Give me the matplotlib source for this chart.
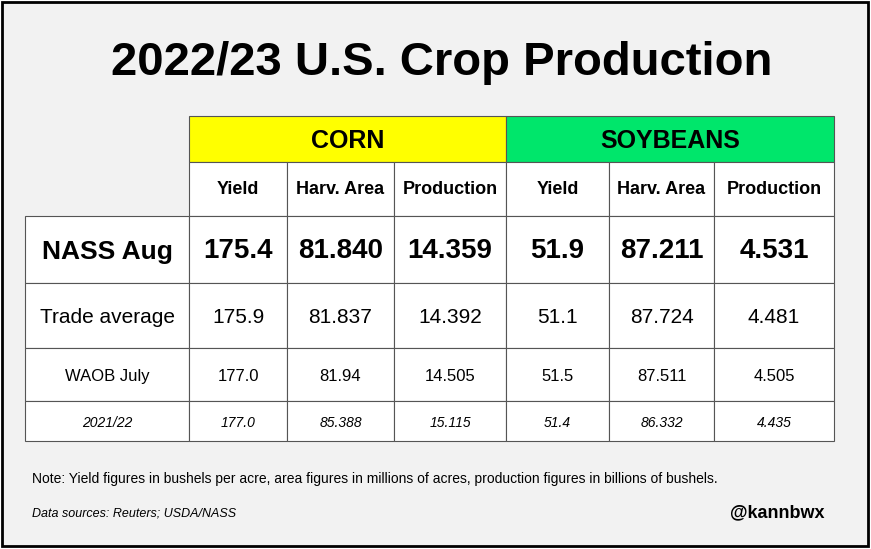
import matplotlib.pyplot as plt
from matplotlib.patches import Rectangle

plt.rcParams['font.family'] = ['Liberation Sans', 'DejaVu Sans']

title = "2022/23 U.S. Crop Production"
crops = ["CORN", "SOYBEANS"]
crop_colors = ["#ffff00", "#00e66b"]
columns = ["Yield", "Harv. Area", "Production"] * 2
row_labels = ["NASS Aug", "Trade average", "WAOB July", "2021/22"]
values = [
    ["175.4", "81.840", "14.359", "51.9", "87.211", "4.531"],
    ["175.9", "81.837", "14.392", "51.1", "87.724", "4.481"],
    ["177.0", "81.94", "14.505", "51.5", "87.511", "4.505"],
    ["177.0", "85.388", "15.115", "51.4", "86.332", "4.435"],
]
note = ("Note: Yield figures in bushels per acre, area figures in millions of acres, "
        "production figures in billions of bushels.")
source = "Data sources: Reuters; USDA/NASS"
handle = "@kannbwx"

# layout in pixels
W, H = 871, 549
xs = [189, 287, 394, 506, 609, 714, 834]
ys = [116, 162, 216, 283, 348, 401, 441]
label_x0 = 25
row_styles = [
    dict(fontsize=20, fontweight='bold', style='normal'),
    dict(fontsize=15, fontweight='normal', style='normal'),
    dict(fontsize=12, fontweight='normal', style='normal'),
    dict(fontsize=10, fontweight='normal', style='italic'),
]
label_sizes = [19, 15, 12, 10]

fig = plt.figure(figsize=(W / 100, H / 100), dpi=100)
fig.patch.set_facecolor('white')
ax = fig.add_axes([0, 0, 1, 1])
ax.set_xlim(0, W)
ax.set_ylim(H, 0)
ax.axis('off')

ax.add_patch(Rectangle((2, 2), W - 5, H - 5, facecolor='#f2f2f2', edgecolor='black', lw=2))
ax.text(W / 2 + 6, 63, title, ha='center', va='center', fontsize=34, fontweight='bold')

# header with crop names
for i, (crop, col) in enumerate(zip(crops, crop_colors)):
    x0, x1 = xs[i * 3], xs[i * 3 + 3]
    ax.add_patch(Rectangle((x0, ys[0]), x1 - x0, ys[1] - ys[0], facecolor=col, edgecolor='#555555', lw=0.8))
    ax.text((x0 + x1) / 2, (ys[0] + ys[1]) / 2 + 2, crop, ha='center', va='center', fontsize=18, fontweight='bold')

# sub headers
for j, c in enumerate(columns):
    ax.add_patch(Rectangle((xs[j], ys[1]), xs[j + 1] - xs[j], ys[2] - ys[1], facecolor='white', edgecolor='#555555', lw=0.8))
    ax.text((xs[j] + xs[j + 1]) / 2, (ys[1] + ys[2]) / 2 + 1, c, ha='center', va='center', fontsize=13, fontweight='bold')

# body
for r, (lab, row) in enumerate(zip(row_labels, values)):
    y0, y1 = ys[r + 2], ys[r + 3]
    st = row_styles[r]
    ax.add_patch(Rectangle((label_x0, y0), xs[0] - label_x0, y1 - y0, facecolor='white', edgecolor='#555555', lw=0.8))
    ax.text((label_x0 + xs[0]) / 2, (y0 + y1) / 2 + 2, lab, ha='center', va='center',
            fontsize=label_sizes[r], fontweight=st['fontweight'], style=st['style'])
    for j, v in enumerate(row):
        ax.add_patch(Rectangle((xs[j], y0), xs[j + 1] - xs[j], y1 - y0, facecolor='white', edgecolor='#555555', lw=0.8))
        ax.text((xs[j] + xs[j + 1]) / 2, (y0 + y1) / 2 + 2, v, ha='center', va='center', **st)

ax.text(32, 479, note, ha='left', va='center', fontsize=10)
ax.text(32, 513, source, ha='left', va='center', fontsize=9, style='italic')
ax.text(824, 513, handle, ha='right', va='center', fontsize=13, fontweight='bold')

fig.savefig('out.png', dpi=100)
